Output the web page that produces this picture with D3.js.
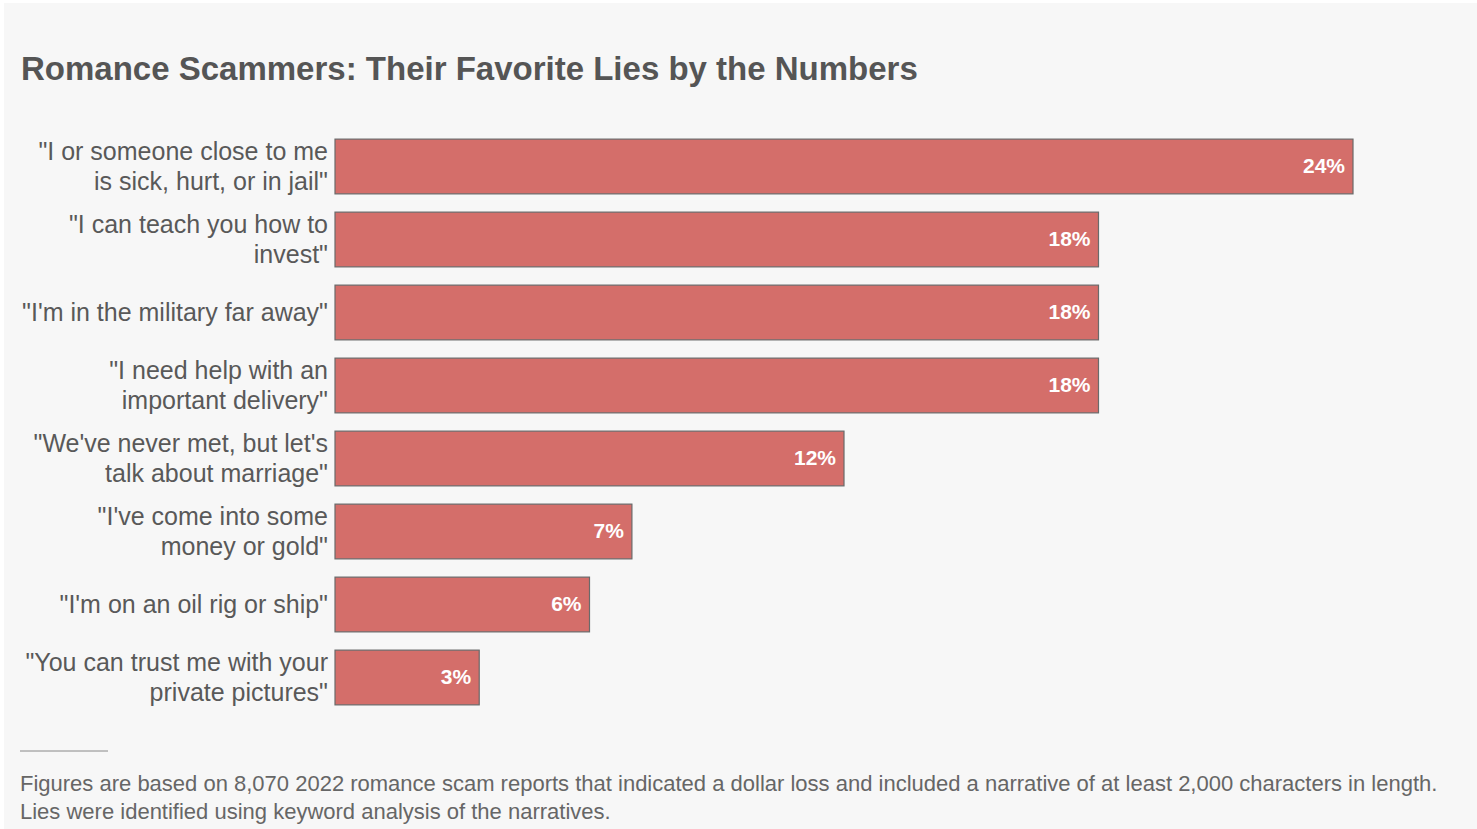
<!DOCTYPE html>
<html>
<head>
<meta charset="utf-8">
<script src="https://cdn.jsdelivr.net/npm/d3@7"></script>
<style>
  body { margin: 0; background: #ffffff; }
  svg text { font-family: "Liberation Sans", Arial, sans-serif; }
</style>
</head>
<body>
<div id="chart"></div>
<script>
// chart data
var lies = [
	["\"I or someone close to me", "is sick, hurt, or in jail\""],
	["\"I can teach you how to", "invest\""],
	["\"I'm in the military far away\""],
	["\"I need help with an", "important delivery\""],
	["\"We've never met, but let's", "talk about marriage\""],
	["\"I've come into some", "money or gold\""],
	["\"I'm on an oil rig or ship\""],
	["\"You can trust me with your", "private pictures\""]
];
var shares = [24, 18, 18, 18, 12, 7, 6, 3.4];
var shareLabels = ["24%", "18%", "18%", "18%", "12%", "7%", "6%", "3%"];

var title = "Romance Scammers: Their Favorite Lies by the Numbers";
var notes = [
	"Figures are based on 8,070 2022 romance scam reports that indicated a dollar loss and included a narrative of at least 2,000 characters in length.",
	"Lies were identified using keyword analysis of the narratives."
];

var w = 1477, h = 829;
var margin = {top: 130, left: 335, right: 124, bottom: 115};

var svg = d3.select("#chart")
	.append("svg")
	.attr("width", w)
	.attr("height", h);

// grey panel, thin white edge on the left and top
svg.append("rect")
	.attr("x", 4)
	.attr("y", 3)
	.attr("width", w - 4)
	.attr("height", h - 3)
	.attr("fill", "#f7f7f7");

svg.append("text")
	.text(title)
	.attr("x", 21)
	.attr("y", 80)
	.attr("font-size", "33px")
	.attr("font-weight", "bold")
	.attr("fill", "#555555");

var idx = d3.range(shares.length);

var x = d3.scaleLinear()
	.domain([0, 24])
	.range([margin.left, 1353]);

var y = d3.scaleBand()
	.domain(idx)
	.range([margin.top, margin.top + 73 * shares.length])
	.paddingInner(0.25)
	.paddingOuter(0.125);

var rows = svg.append("g")
	.selectAll("g")
	.data(idx)
	.enter()
	.append("g");

rows.append("rect")
	.attr("x", x(0))
	.attr("y", function(i){ return y(i); })
	.attr("width", function(i){ return x(shares[i]) - x(0); })
	.attr("height", y.bandwidth())
	.attr("fill", "#d46e6a")
	.attr("stroke", "#6a6a6a")
	.attr("stroke-width", 1.2);

rows.append("text")
	.text(function(i){ return shareLabels[i]; })
	.attr("x", function(i){ return x(shares[i]) - 8; })
	.attr("y", function(i){ return y(i) + y.bandwidth() / 2 + 6; })
	.attr("text-anchor", "end")
	.attr("font-size", "21px")
	.attr("font-weight", "bold")
	.attr("fill", "#ffffff");

// category labels, one or two lines, right aligned next to the bars
rows.append("text")
	.attr("text-anchor", "end")
	.attr("font-size", "25px")
	.attr("fill", "#595959")
	.each(function(i){
		var lines = lies[i];
		var mid = y(i) + y.bandwidth() / 2;
		var first = lines.length == 1 ? mid + 8 : mid - 7;
		d3.select(this).selectAll("tspan")
			.data(lines)
			.enter()
			.append("tspan")
			.attr("x", margin.left - 7)
			.attr("y", function(d, k){ return first + k * 30; })
			.text(function(d){ return d; });
	});

// footnote
svg.append("line")
	.attr("x1", 20)
	.attr("x2", 108)
	.attr("y1", 751)
	.attr("y2", 751)
	.attr("stroke", "#888888")
	.attr("stroke-width", 1);

svg.append("g")
	.selectAll("text")
	.data(notes)
	.enter()
	.append("text")
	.text(function(d){ return d; })
	.attr("x", 20)
	.attr("y", function(d, k){ return 791 + k * 28; })
	.attr("font-size", "22px")
	.attr("fill", "#666666");
</script>
</body>
</html>
